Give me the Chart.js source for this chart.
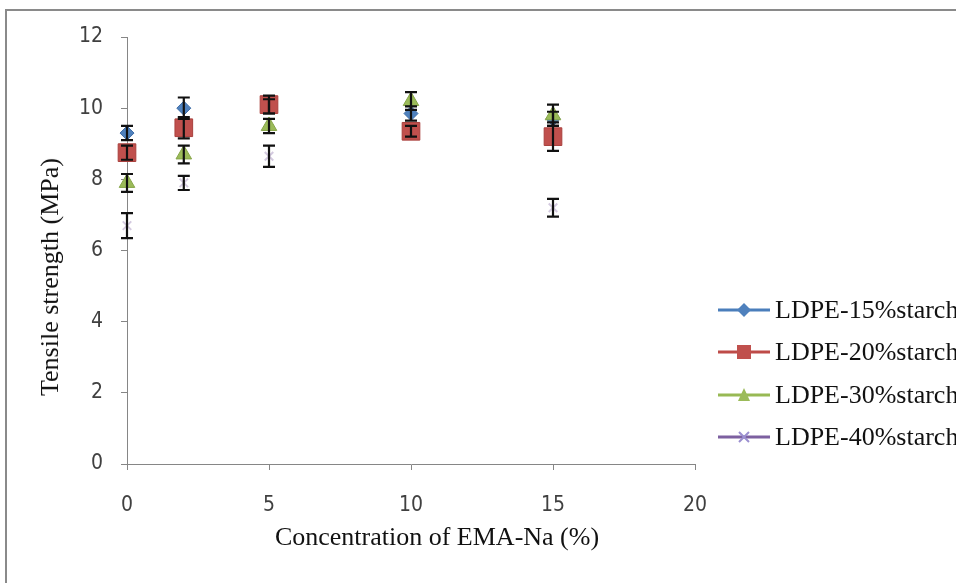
<!DOCTYPE html>
<html>
<head>
<meta charset="utf-8">
<script src="https://cdn.jsdelivr.net/npm/chart.js@4/dist/chart.umd.min.js"></script>
<style>
html, body { margin: 0; padding: 0; background: #fff; overflow: hidden; }
#wrap { position: relative; width: 956px; height: 583px; overflow: hidden; }
#frame { position: absolute; left: 5px; top: 9px; width: 980px; height: 620px; border: 2px solid #8a8a8a; box-sizing: border-box; }
canvas { position: absolute; left: 0; top: 0; }
.serif { position: absolute; font-family: 'Liberation Serif', 'Times New Roman', serif; color: #111; white-space: nowrap; }
#ytitle { left: 50px; top: 277px; font-size: 26px; transform: translate(-50%, -50%) rotate(-90deg); }
#xtitle { left: 437px; top: 537px; font-size: 26px; transform: translate(-50%, -50%); }
.leg { position: absolute; left: 718px; height: 30px; display: flex; align-items: center; }
.leg svg { flex: none; }
.leg span { font-family: 'Liberation Serif', 'Times New Roman', serif; font-size: 26px; color: #111; margin-left: 3px; white-space: nowrap; }
</style>
</head>
<body>
<div id="wrap">
  <div id="frame"></div>
  <canvas id="chart" width="956" height="583"></canvas>
  <div id="ytitle" class="serif">Tensile strength (MPa)</div>
  <div id="xtitle" class="serif">Concentration of EMA-Na (%)</div>
  <div id="legend"></div>
</div>
<script>
// EMA-Na concentration (%)
const xVals = [0, 2, 5, 10, 15];

// tensile strength (MPa) per starch level, null = not plotted
const s15 = [9.3, 10.0, 10.05, 9.85, 9.7];
const s20 = [8.75, 9.45, 10.1, 9.35, 9.2];
const s30 = [7.9, 8.7, 9.5, 10.2, 9.8];
const s40 = [6.7, 7.9, 8.65, null, 7.2];

// error bar half-widths
const e15 = [0.2, 0.3, 0.2, 0.2, 0.2];
const e20 = [0.2, 0.3, 0.25, 0.15, 0.4];
const e30 = [0.25, 0.25, 0.2, 0.25, 0.3];
const e40 = [0.35, 0.2, 0.3, null, 0.25];

const seriesNames = ['LDPE-15%starch', 'LDPE-20%starch', 'LDPE-30%starch', 'LDPE-40%starch'];
const yTicks = [0, 2, 4, 6, 8, 10, 12];
const xTicks = [0, 5, 10, 15, 20];

function pts(vals, errs) {
    return xVals.map((x, i) => ({ x: x, y: vals[i], e: errs[i] })).filter(p => p.y !== null);
}

const errorBars = {
    id: 'errorBars',
    afterDatasetsDraw(chart) {
        const ctx = chart.ctx;
        const y = chart.scales.y;
        ctx.save();
        ctx.strokeStyle = '#111';
        ctx.lineWidth = 2.2;
        chart.data.datasets.forEach((ds, i) => {
            const meta = chart.getDatasetMeta(i);
            meta.data.forEach((pt, j) => {
                const p = ds.data[j];
                if (p.e == null) return;
                const top = y.getPixelForValue(p.y + p.e);
                const bot = y.getPixelForValue(p.y - p.e);
                ctx.beginPath();
                ctx.moveTo(pt.x, top); ctx.lineTo(pt.x, bot);
                ctx.moveTo(pt.x - 6, top); ctx.lineTo(pt.x + 6, top);
                ctx.moveTo(pt.x - 6, bot); ctx.lineTo(pt.x + 6, bot);
                ctx.stroke();
            });
        });
        ctx.restore();
    }
};

const tickFont = { family: "'Liberation Sans Narrow', 'DejaVu Sans Condensed', 'Liberation Sans', sans-serif", size: 21 };
const axisColor = '#868686';

const chart = new Chart(document.getElementById('chart'), {
    type: 'scatter',
    data: {
        datasets: [
            {
                label: seriesNames[0], data: pts(s15, e15), order: 4, clip: false,
                pointStyle: 'rectRot', pointRadius: 7,
                backgroundColor: '#4F81BD', borderColor: '#3d6ca6', borderWidth: 1
            },
            {
                label: seriesNames[1], data: pts(s20, e20), order: 3, clip: false,
                pointStyle: 'rect', pointRadius: 12.5,
                backgroundColor: '#C0504D', borderColor: '#a9403d', borderWidth: 1
            },
            {
                label: seriesNames[2], data: pts(s30, e30), order: 2, clip: false,
                pointStyle: 'triangle', pointRadius: 9,
                backgroundColor: '#9BBB59', borderColor: '#86a548', borderWidth: 1
            },
            {
                label: seriesNames[3], data: pts(s40, e40), order: 1, clip: false,
                pointStyle: 'crossRot', pointRadius: 6,
                backgroundColor: 'rgba(128,100,162,0.35)', borderColor: 'rgba(128,100,162,0.35)', borderWidth: 2
            }
        ]
    },
    options: {
        responsive: false,
        animation: false,
        devicePixelRatio: 1,
        layout: { padding: { top: 37, right: 261, bottom: 0, left: 0 } },
        plugins: {
            legend: { display: false },
            tooltip: { enabled: false }
        },
        scales: {
            x: {
                type: 'linear', min: 0, max: 20,
                afterBuildTicks: s => { s.ticks = xTicks.map(v => ({ value: v })); },
                afterFit: s => { s.height = 119; },
                ticks: { font: tickFont, color: '#404040', padding: 23 },
                grid: { drawOnChartArea: false, tickLength: 6, color: axisColor },
                border: { color: axisColor, width: 1 }
            },
            y: {
                type: 'linear', min: 0, max: 12,
                afterBuildTicks: s => { s.ticks = yTicks.map(v => ({ value: v })); },
                afterFit: s => { s.width = 127; },
                ticks: { font: tickFont, color: '#404040', padding: 18 },
                grid: { drawOnChartArea: false, tickLength: 6, color: axisColor },
                border: { color: axisColor, width: 1 }
            }
        }
    },
    plugins: [errorBars]
});

// legend: line with marker, then name
const legendRows = [310, 352, 395, 437];
const legendIcons = [
    '<line x1="0" y1="11" x2="52" y2="11" stroke="#4A7EBB" stroke-width="3"/><polygon points="26,4 33,11 26,18 19,11" fill="#4F81BD"/>',
    '<line x1="0" y1="11" x2="52" y2="11" stroke="#BE4B48" stroke-width="3"/><rect x="19" y="4" width="14" height="14" fill="#C0504D"/>',
    '<line x1="0" y1="11" x2="52" y2="11" stroke="#98B954" stroke-width="3"/><polygon points="26,4 32,17 20,17" fill="#9BBB59"/>',
    '<line x1="0" y1="11" x2="52" y2="11" stroke="#7D60A0" stroke-width="3"/><path d="M21,6 L31,16 M31,6 L21,16" stroke="#9b8fd0" stroke-width="2"/>'
];
const legend = document.getElementById('legend');
seriesNames.forEach((name, i) => {
    const row = document.createElement('div');
    row.className = 'leg';
    row.style.top = (legendRows[i] - 15) + 'px';
    row.innerHTML = '<svg width="54" height="22" viewBox="0 0 54 22">' + legendIcons[i] + '</svg><span>' + name + '</span>';
    legend.appendChild(row);
});
</script>
</body>
</html>
